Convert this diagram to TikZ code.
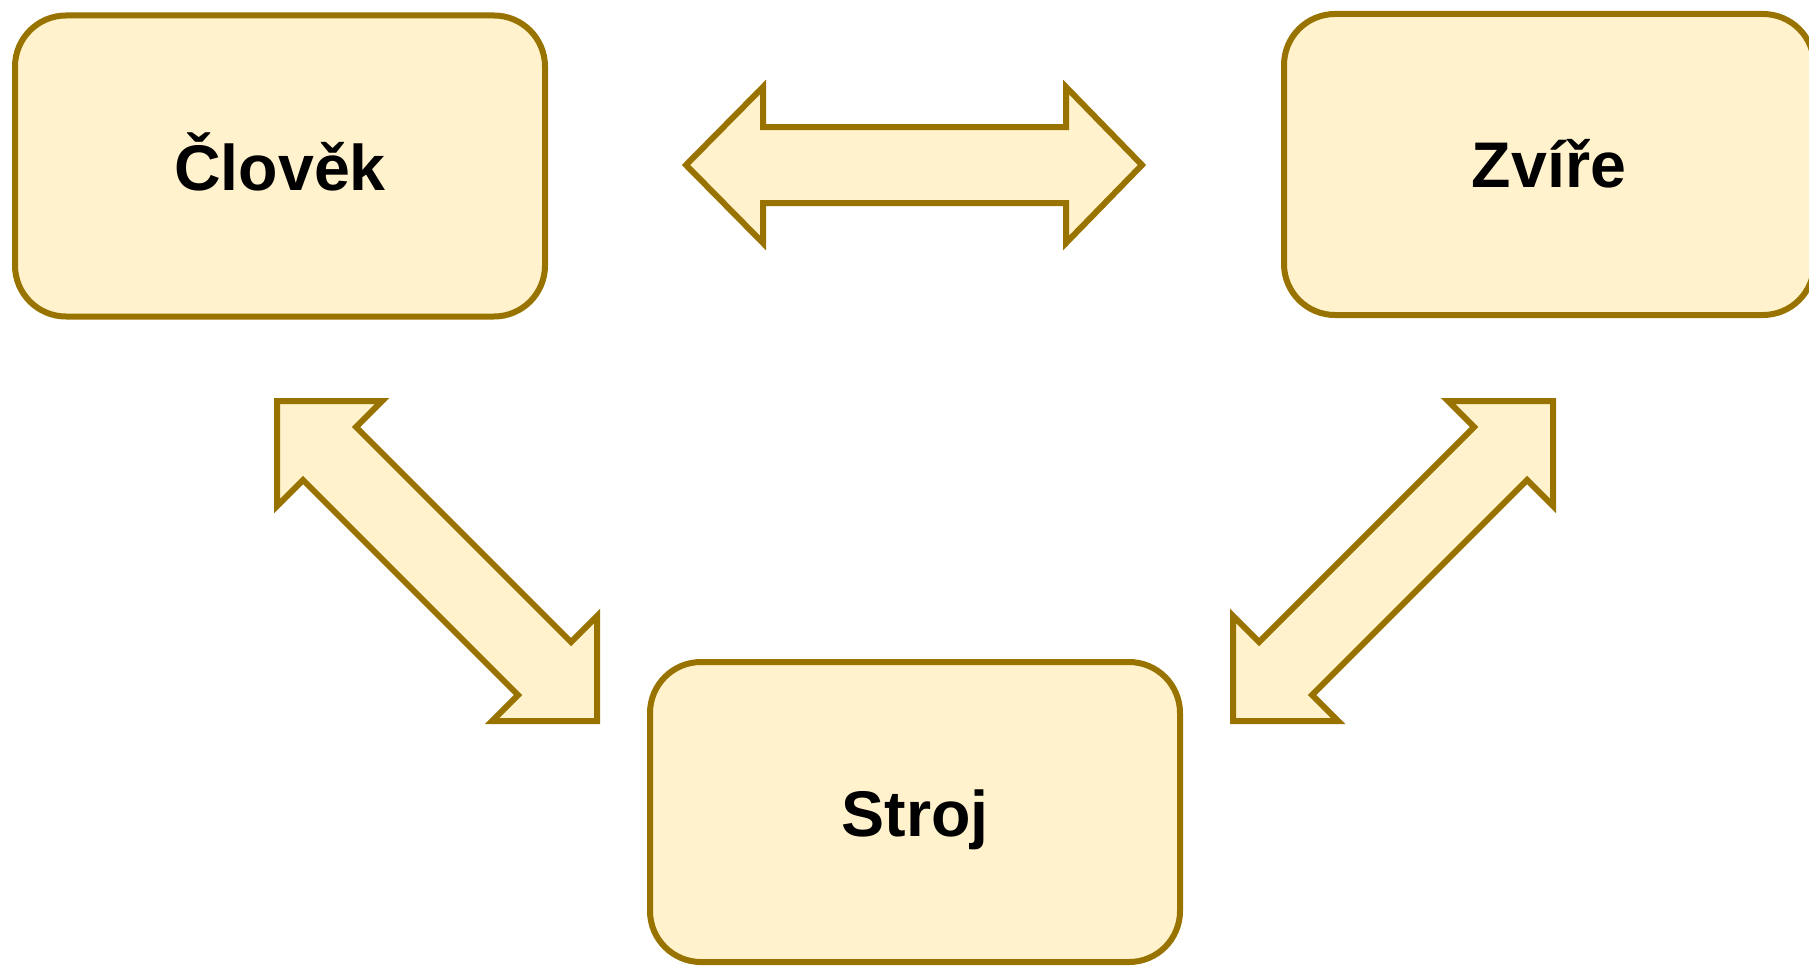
\documentclass[tikz,border=0pt]{standalone}
\usepackage{fontspec}
\setmainfont{Liberation Sans}
\definecolor{brd}{HTML}{997300}
\definecolor{fil}{HTML}{FFF2CC}
\begin{document}
\begin{tikzpicture}[x=1pt,y=-1pt,
  box/.style={draw=brd,fill=fil,line width=6pt,rounded corners=51pt,
    minimum width=530pt,minimum height=301pt,inner sep=0pt,
    font=\fontsize{64.5}{72}\selectfont\bfseries,text height=46pt,text depth=0pt},
  blk/.style={draw=brd,fill=fil,line width=6pt,line join=miter}]
\useasboundingbox (0,0) rectangle (1809,966);
% boxes
\node[box,text height=48pt] (clovek) at (280,166) {Člověk};
\node[box] (zvire) at (1549,164.5) {Zvíře};
\node[box,minimum height=300pt,text height=49pt] (stroj) at (915,812) {Stroj};
% top double arrow
\draw[blk] (686,165) -- (763,87) -- (763,127) -- (1066,127) -- (1066,87)
  -- (1142,165) -- (1066,243) -- (1066,203) -- (763,203) -- (763,243) -- cycle;
% left diagonal double arrow
\draw[blk] (277,401) -- (382,401) -- (356,427) -- (571,642) -- (597,616)
  -- (597,721) -- (492,721) -- (518,695) -- (303,480) -- (277,506) -- cycle;
% right diagonal double arrow
\draw[blk] (1553,401) -- (1448,401) -- (1474,427) -- (1259,642) -- (1233,616)
  -- (1233,721) -- (1338,721) -- (1312,695) -- (1527,480) -- (1553,506) -- cycle;
\end{tikzpicture}
\end{document}
